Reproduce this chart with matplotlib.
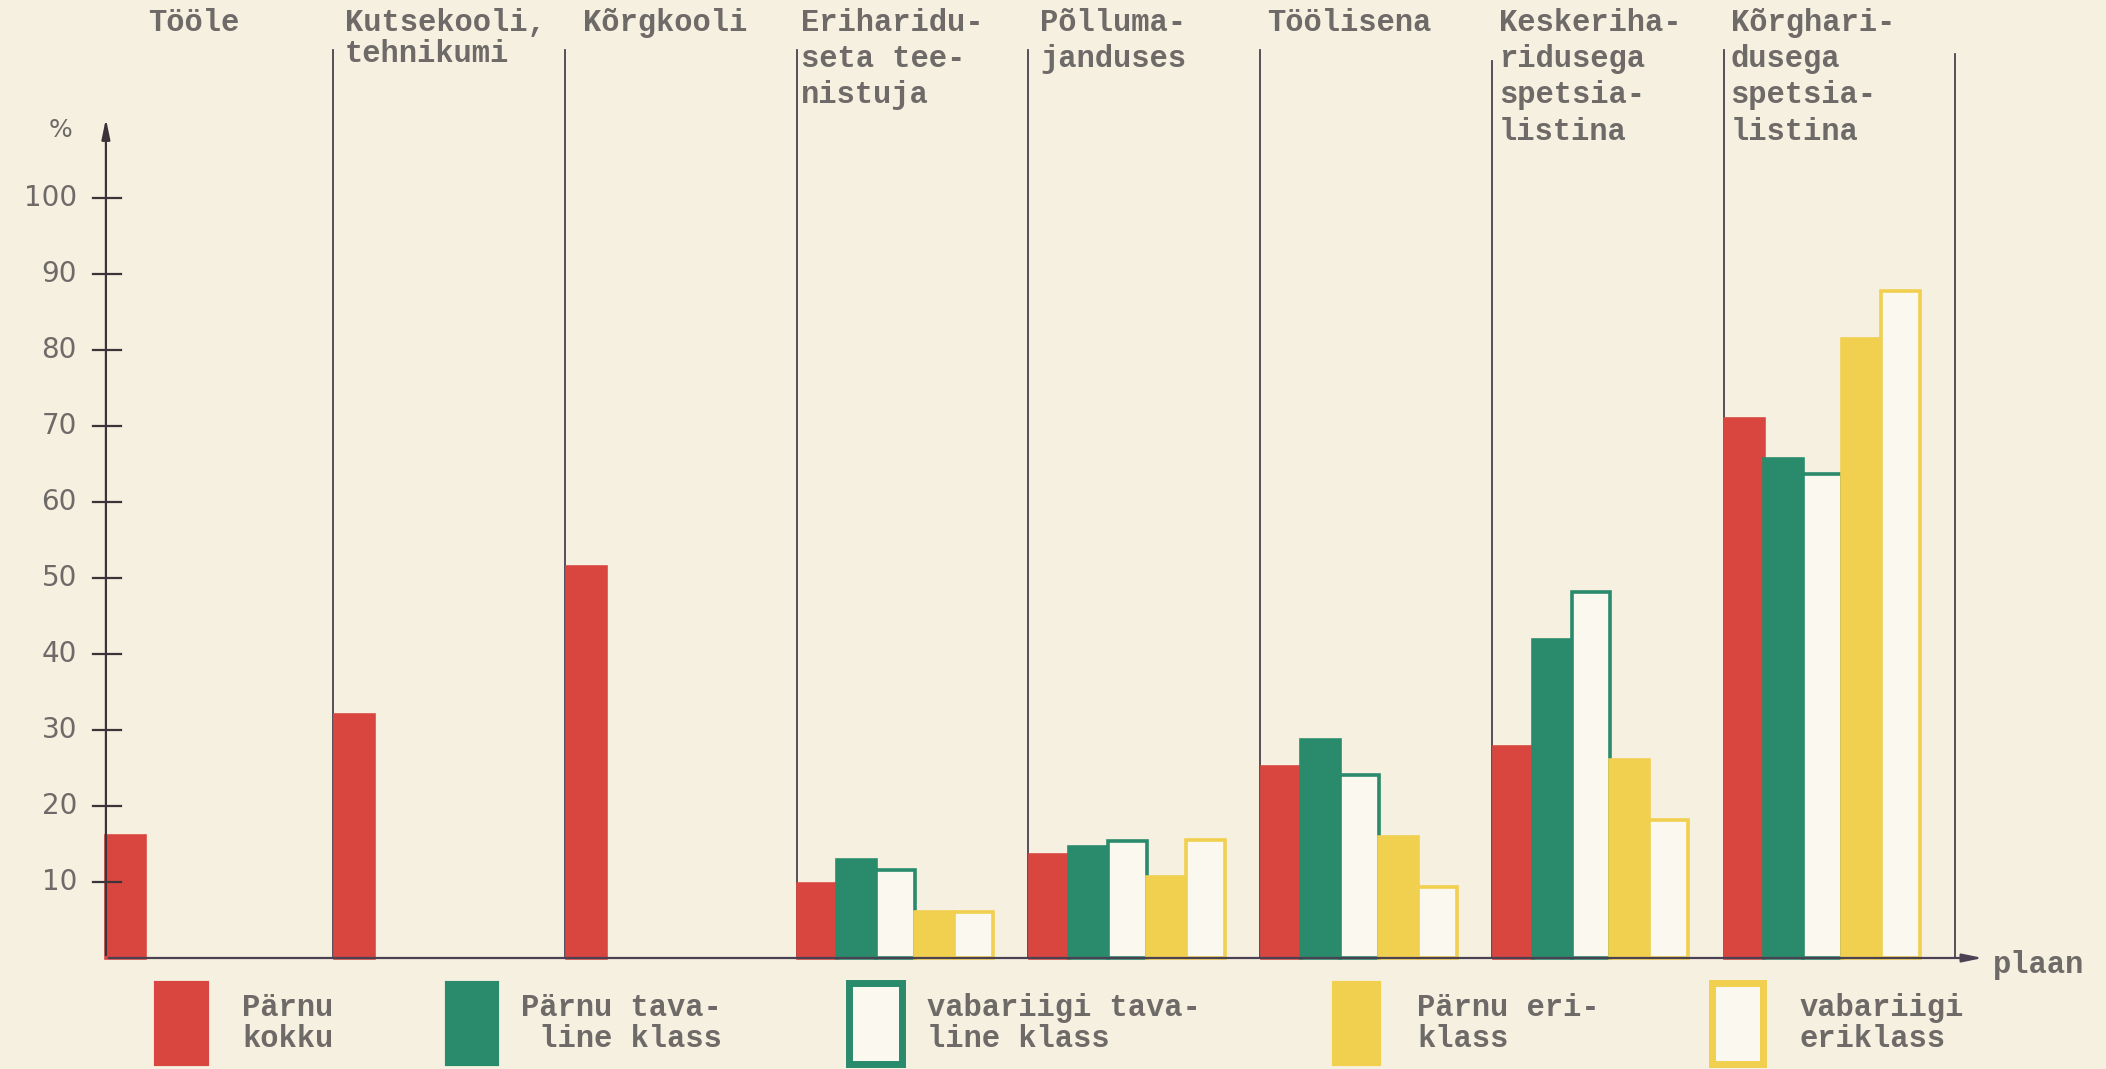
import numpy as np
import matplotlib
matplotlib.use("Agg")
from matplotlib import pyplot as plt
from matplotlib.patches import Rectangle

# categories (header lines typed above each column)
headers = [
    ["Tööle"],
    ["Kutsekooli,", "tehnikumi"],
    ["Kõrgkooli"],
    ["Eriharidu-", "seta tee-", "nistuja"],
    ["Põlluma-", "janduses"],
    ["Töölisena"],
    ["Keskeriha-", "ridusega", "spetsia-", "listina"],
    ["Kõrghari-", "dusega", "spetsia-", "listina"],
]

# series values, %
parnu_kokku = [16, 32, 51.5, 9.7, 13.6, 25.1, 27.8, 70.9]
parnu_tava = [np.nan, np.nan, np.nan, 12.9, 14.6, 28.7, 41.8, 65.7]
vabariigi_tava = [np.nan, np.nan, np.nan, 11.6, 15.4, 24.1, 48.1, 63.7]
parnu_eri = [np.nan, np.nan, np.nan, 6.0, 10.7, 15.9, 26.0, 81.4]
vabariigi_eri = [np.nan, np.nan, np.nan, 6.0, 15.5, 9.4, 18.2, 87.8]

series_labels = ["Pärnu\nkokku", "Pärnu tava-\n line klass", "vabariigi tava-\nline klass",
                 "Pärnu eri-\nklass", "vabariigi\neriklass"]

yticks = [10, 20, 30, 40, 50, 60, 70, 80, 90, 100]

paper = "#f6f0e1"
red = "#d9463f"
green = "#2a8a6c"
yellow = "#f1cf4f"
hollow = "#fbf8ef"
ink = "#6e6a68"
line_col = "#4a4252"
mono = "Liberation Mono"

fig = plt.figure(figsize=(21.06, 10.69), dpi=100, facecolor=paper)
ax = fig.add_axes([0, 0, 1, 1])
ax.set_facecolor(paper)
# 1 x unit = one column, 1 y unit = 1 %
ax.set_xlim(-0.437, 8.650)
ax.set_ylim((958 - 1069) / 7.6, 958 / 7.6)
ax.axis("off")

x_axis = 0.02
bw = 0.168
styles = [
    (parnu_kokku, red, red),
    (parnu_tava, green, green),
    (vabariigi_tava, hollow, green),
    (parnu_eri, yellow, yellow),
    (vabariigi_eri, hollow, yellow),
]
for k, (vals, fc, ec) in enumerate(styles):
    for g, v in enumerate(vals):
        if np.isnan(v):
            continue
        x0 = max(g + 0.008, x_axis) + k * bw
        ax.add_patch(Rectangle((x0, 0), bw, v, facecolor=fc, edgecolor=ec,
                               lw=2.6, zorder=3))

# column dividers
div_tops = [119.5, 119.5, 119.5, 119.5, 119.5, 118, 119.5, 119]
for g in range(1, 9):
    ax.plot([g, g], [0, div_tops[g - 1]], color=line_col, lw=1.3, zorder=2)

# headers
head_x = [0.20, 1.05, 2.08, 3.02, 4.05, 5.03, 6.03, 7.03]
for g, lines in enumerate(headers):
    for i, t in enumerate(lines):
        y = 123.0 - i * 4.75
        if g == 1 and i == 1:
            y = 118.9
        ax.text(head_x[g], y, t, family=mono, fontweight="bold", fontsize=22,
                color=ink, va="center", ha="left")

# axes with arrows
ax.annotate("", xy=(x_axis, 110.8), xytext=(x_axis, 0),
            arrowprops=dict(arrowstyle="-|>,head_width=0.25,head_length=1.2",
                            color="#3a3438", lw=1.6), zorder=4)
ax.annotate("", xy=(8.13, 0), xytext=(x_axis, 0),
            arrowprops=dict(arrowstyle="-|>,head_width=0.25,head_length=1.2",
                            color=line_col, lw=1.6), zorder=4)
ax.text(8.16, -0.9, "plaan", family=mono, fontweight="bold", fontsize=22,
        color=ink, va="center", ha="left")

for t in yticks:
    ax.plot([-0.035, 0.085], [t, t], color="#3a3438", lw=1.6, zorder=4)
    ax.text(-0.105, t, str(t), fontsize=20, color=ink, ha="right", va="center",
            family="DejaVu Sans")
ax.text(-0.178, 108.9, "%", fontsize=18, color=ink, ha="center", va="center")

# legend
leg_swatch = [(0.236, 0.457), (1.492, 1.708), (3.226, 3.457), (5.317, 5.513), (6.95, 7.17)]
leg_text_x = [0.607, 1.811, 3.563, 5.677, 7.329]
leg_style = [(red, red), (green, green), (hollow, green), (yellow, yellow),
             (hollow, yellow)]
for (x0, x1), tx, (fc, ec), lab in zip(leg_swatch, leg_text_x, leg_style, series_labels):
    lw = 5 if fc == hollow else 3
    ax.add_patch(Rectangle((x0, -13.9), x1 - x0, 10.6, facecolor=fc, edgecolor=ec,
                           lw=lw, zorder=3))
    l1, l2 = lab.split("\n")
    ax.text(tx, -6.6, l1, family=mono, fontweight="bold", fontsize=22,
            color=ink, va="center", ha="left")
    ax.text(tx, -10.6, l2, family=mono, fontweight="bold", fontsize=22,
            color=ink, va="center", ha="left")

fig.savefig("out.png", dpi=100, facecolor=paper)
